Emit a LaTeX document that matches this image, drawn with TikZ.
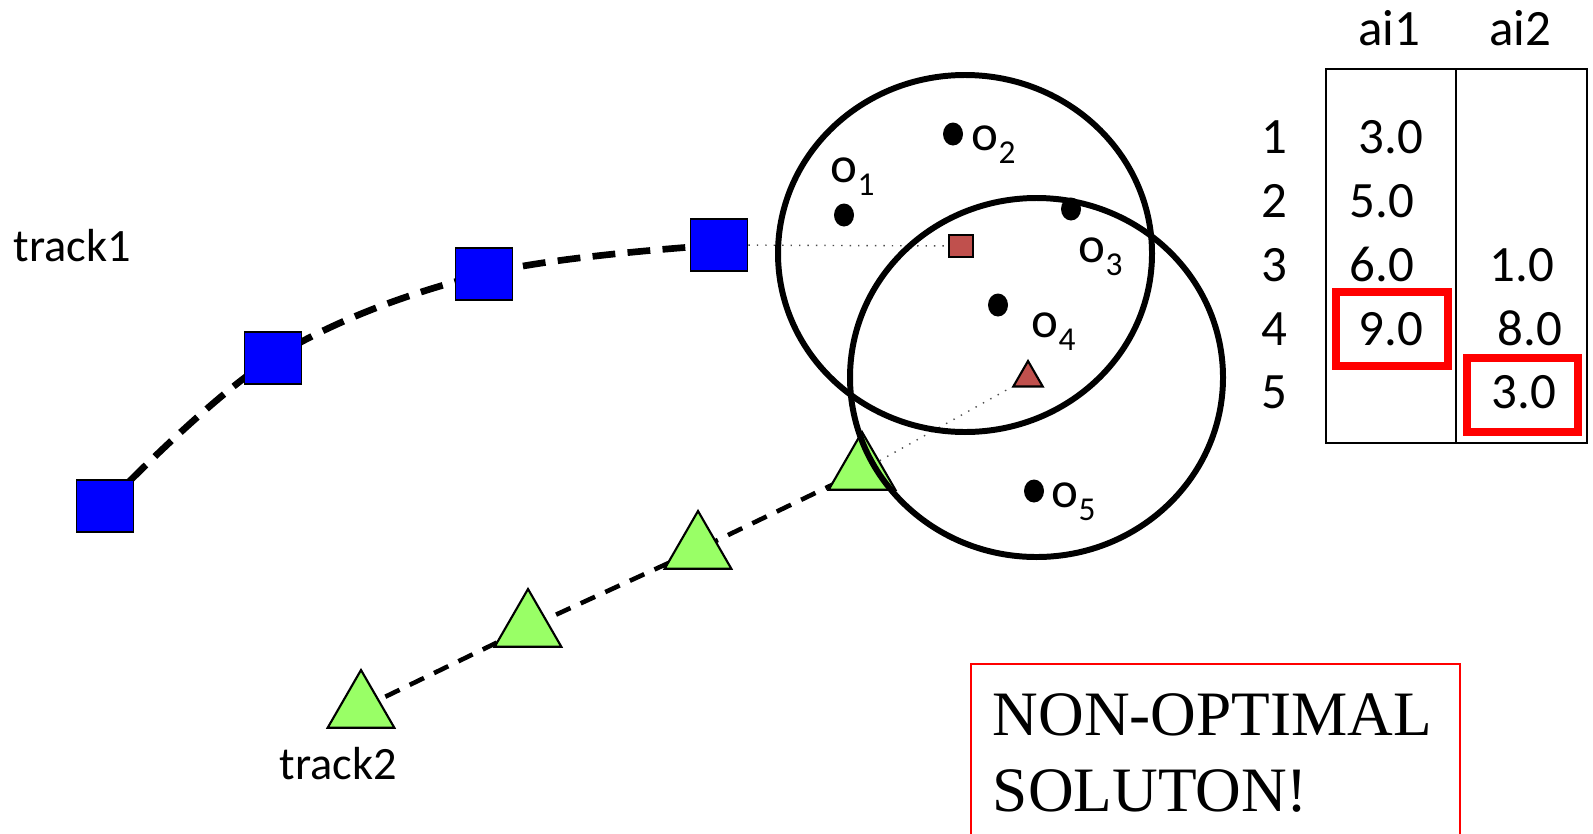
\documentclass[tikz,border=0pt]{standalone}
\usepackage{fontspec}
\setmainfont{Carlito}
\newfontfamily\timesfont{Liberation Serif}
\usetikzlibrary{shapes.geometric}
\definecolor{trkblue}{RGB}{0,0,255}
\definecolor{trkgreen}{RGB}{153,255,102}
\definecolor{predred}{RGB}{192,80,77}
\newcommand{\objlab}[1]{o\raisebox{-3.7pt}{\fontsize{9.5}{10}\selectfont #1}}

\begin{document}
\begin{tikzpicture}[x=0.1mm, y=-0.1mm,
    sq/.style={rectangle, draw=black, fill=trkblue, line width=0.5pt,
               minimum width=5.7mm, minimum height=5.2mm, inner sep=0pt},
    tri/.style={regular polygon, regular polygon sides=3, draw=black, fill=trkgreen,
                line width=0.6pt, minimum size=7.7mm, inner sep=0pt},
    psq/.style={sq, fill=predred, line width=0.8pt, minimum width=2.4mm, minimum height=2.2mm},
    ptri/.style={tri, fill=predred, minimum size=3.4mm},
    obs/.style={ellipse, fill=black, minimum width=2.0mm, minimum height=2.3mm, inner sep=0pt},
    gate/.style={draw=black, line width=1.7pt},
    path1/.style={draw=black, line width=1.9pt, dash pattern=on 6.5pt off 3.5pt},
    path2/.style={draw=black, line width=1.3pt, dash pattern=on 4.5pt off 3.2pt},
    assoc/.style={draw=black!70, line width=0.4pt, dotted},
    tbl/.style={draw=black, line width=0.6pt},
    hl/.style={draw=red, line width=2.3pt},
    lab/.style={font=\fontsize{14.5}{16}\selectfont, inner sep=0pt},
    tlab/.style={font=\fontsize{13.2}{15}\selectfont, inner sep=0pt},
    verdict/.style={draw=red, line width=0.5pt, align=left, text width=44.5mm,
                    inner xsep=2.2mm, inner ysep=3mm,
                    font=\timesfont\fontsize{18}{21.5}\selectfont}]
  \useasboundingbox (0,0) rectangle (1593,833);
  % track positions
  \foreach \n/\x/\y in {1/105/506, 2/273/358, 3/484/274, 4/719/245}
    { \coordinate (c\n) at (\x,\y); }
  \foreach \n/\x/\y in {1/361/708.5, 2/528/627.5, 3/698/549.5, 4/862/470.5}
    { \coordinate (d\n) at (\x,\y); }
  \draw[path1] plot[smooth, tension=0.6] coordinates {(c1) (c2) (c3) (c4)};
  \draw[path2] (d1) -- (d2) -- (d3) -- (d4);
  \foreach \n in {1,...,4} { \node[sq] (s\n) at (c\n) {}; }
  \foreach \n in {1,...,4} { \node[tri] (g\n) at (d\n) {}; }
  % predictions
  \node[psq] (p1) at (961,246) {};
  \node[ptri] (p2) at (1028,378) {};
  \draw[assoc] (s4) -- (p1);
  \draw[assoc] (g4) -- (p2);
  % gates and observations
  \draw[gate] (965,253.5) ellipse [x radius=187, y radius=178.5];
  \draw[gate] (1036.5,377.5) ellipse [x radius=186.5, y radius=179.5];
  \foreach \n/\x/\y/\lx/\ly in {1/844/215/830/182, 2/953/134/971/150, 3/1071/209/1078/262,
                                4/998/305/1031/337, 5/1034/491/1051/507}
    { \node[obs] (o\n) at (\x,\y) {};
      \node[lab, anchor=base west] (ol\n) at (\lx,\ly) {\objlab{\n}}; }
  \node[tlab, anchor=base west] (t1) at (13,261) {track1};
  \node[tlab, anchor=base west] (t2) at (279,779) {track2};
  % cost table
  \node[lab, anchor=base] (h1) at (1389,45) {ai1};
  \node[lab, anchor=base] (h2) at (1520,45) {ai2};
  \draw[tbl] (1326,69) rectangle (1587,443);
  \draw[tbl] (1456,69) -- (1456,443);
  \foreach \r/\yb in {1/153, 2/217, 3/281, 4/345, 5/408}
    { \node[lab, anchor=base] (r\r) at (1274,\yb) {\r}; }
  \node[lab, anchor=base] (a11) at (1391,153) {3.0};
  \node[lab, anchor=base] (a12) at (1382,217) {5.0};
  \node[lab, anchor=base] (a13) at (1382,281) {6.0};
  \node[lab, anchor=base] (a14) at (1391,345) {9.0};
  \node[lab, anchor=base] (a23) at (1522,281) {1.0};
  \node[lab, anchor=base] (a24) at (1530,345) {8.0};
  \node[lab, anchor=base] (a25) at (1524,408) {3.0};
  \draw[hl] (1336,292) rectangle (1448,366);
  \draw[hl] (1467,358) rectangle (1578,432);
  \node[verdict, anchor=north west] (v) at (970,663) {\mbox{NON-OPTIMAL}\\SOLUTON!};
\end{tikzpicture}
\end{document}
